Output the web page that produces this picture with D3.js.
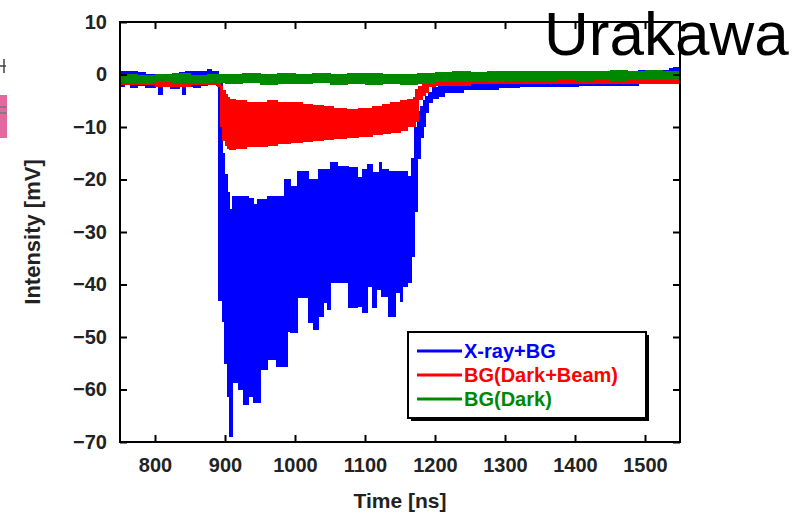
<!DOCTYPE html>
<html>
<head>
<meta charset="utf-8">
<script src="https://cdn.jsdelivr.net/npm/d3@7"></script>
<style>
  body { margin: 0; background: #fff; }
  text { font-family: "Liberation Sans", Arial, sans-serif; }
</style>
</head>
<body>
<div id="chart-area"></div>
<script>
// x-ray + background (envelope of the noisy trace: upper / lower)
var xrayTime = [750, 757, 765, 775, 787, 800, 805, 810, 822, 835, 839, 843, 855, 865, 875, 880, 888,
  890, 896, 899, 903, 907, 911, 919, 926, 933, 940, 947, 950, 961, 974, 985, 989, 993, 1004, 1019, 1026,
  1033, 1040, 1047, 1050, 1061, 1076, 1089, 1097, 1104, 1110, 1117, 1120, 1124, 1133, 1143, 1150, 1154,
  1161, 1166, 1171, 1175, 1179, 1183, 1186, 1190, 1196, 1205, 1214, 1240, 1290, 1320, 1405, 1445, 1490,
  1520, 1535, 1540, 1550];
var xrayHi = [0.5, 0.6, 0.5, 0.3, 0.0, 0.0, 0.0, 0.0, 0.0, 0.3, 0.3, 0.5, 0.5, 0.6, 0.9, 0.5, 0.5,
  -1, -15, -19, -22.5, -25.7, -23.2, -23.2, -23.2, -23.6, -24.8, -23.8, -23.8, -23.2, -23.2, -20, -20, -21.3, -18.5, -20, -20,
  -18.1, -18.1, -18.1, -16.8, -17.5, -17.7, -19.6, -18.1, -17.1, -18.7, -18.7, -16.8, -18.1, -18.5, -18.5, -18.5, -18.5,
  -19.4, -16, -10, -7, -6.1, -5.0, -4.2, -3.4, -2.5, -2.0, -1.7, -1.5, -1.2, -1.1, -1.0, 0.4, 0.8,
  0.8, 1.2, 1.4, 0.9];
var xrayLo = [-2.2, -1.6, -2.5, -2.0, -2.4, -2.0, -3.8, -2.3, -2.6, -2.0, -3.8, -2.2, -2.5, -2.0, -1.9, -1.8, -2.0,
  -43, -47, -55, -61.3, -68.9, -58.7, -60, -62.9, -61.3, -62.5, -62.5, -56.2, -54.3, -55.6, -55.6, -48.9, -49.1, -42.5, -47.2, -48.6,
  -46.1, -43.4, -44.8, -39.6, -39.6, -44.4, -44.2, -45.3, -40.4, -44.4, -41, -41, -42.3, -46.1, -41.5, -43.2, -40.4,
  -39.6, -34.6, -26, -16, -12, -9.9, -7.2, -5.3, -4.5, -4.2, -3.4, -2.9, -2.5, -2.3, -2.0, -2.0, -1.4,
  -0.8, -0.8, -0.6, -0.6];

// background with dark current + beam
var beamTime = [750, 800, 850, 889, 893, 897, 900, 904, 907, 915, 930, 946, 960, 975, 993, 1010, 1025, 1040,
  1055, 1074, 1090, 1111, 1125, 1136, 1150, 1160, 1169, 1172, 1176, 1182, 1186, 1190, 1200, 1250, 1350, 1550];
var beamHi = [-0.6, -0.6, -0.6, -1.0, -2.3, -3.0, -3.8, -4.4, -4.8, -5.0, -5.3, -5.3, -5.0, -5.3, -5.3, -5.7, -5.9, -6.1,
  -6.5, -6.7, -6.5, -6.1, -5.7, -5.3, -5.0, -4.8, -4.4, -2.9, -2.2, -1.9, -1.7, -1.5, -1.4, -1.2, -1.1, -1.0];
var beamLo = [-1.9, -2.2, -1.9, -2.3, -9.9, -12.5, -13.5, -14.0, -14.3, -14.0, -13.8, -13.7, -13.5, -13.2, -13.0, -12.8, -12.6, -12.4,
  -12.2, -12.0, -11.8, -11.5, -11.3, -11.0, -10.6, -9.9, -9.9, -9.0, -4.8, -4.0, -3.4, -2.3, -2.0, -1.8, -1.7, -1.6];

// dark current only
var darkTime = [750, 775, 800, 825, 850, 875, 900, 925, 950, 975, 1000, 1025, 1050, 1075, 1100, 1125, 1150, 1175,
  1200, 1225, 1250, 1275, 1300, 1325, 1350, 1375, 1400, 1425, 1450, 1475, 1500, 1525, 1550];
var darkHi = [0.0, -0.2, 0.0, 0.1, -0.1, 0.0, 0.0, 0.2, 0.0, 0.2, 0.0, 0.2, 0.0, 0.1, 0.1, 0.0, 0.0, 0.1,
  0.4, 0.5, 0.4, 0.6, 0.5, 0.6, 0.5, 0.6, 0.5, 0.6, 0.7, 0.6, 0.7, 0.6, 0.8];
var darkLo = [-1.5, -1.6, -1.4, -1.6, -1.5, -1.6, -1.8, -1.6, -1.9, -1.7, -1.8, -1.6, -1.9, -1.8, -1.9, -1.8, -1.9, -1.8,
  -1.3, -1.4, -1.2, -1.3, -1.2, -1.1, -1.2, -1.0, -1.1, -1.0, -1.1, -1.0, -0.9, -1.0, -0.9];

var xTicks = [800, 900, 1000, 1100, 1200, 1300, 1400, 1500];
var yTicks = [10, 0, -10, -20, -30, -40, -50, -60, -70];
var legendNames = ["X-ray+BG", "BG(Dark+Beam)", "BG(Dark)"];
var legendColors = ["#0000ff", "#ff0000", "#008800"];

var margin = {top: 22, left: 120};
var width = 560;
var height = 420;

var svg = d3.select("#chart-area").append("svg").attr("width", 812).attr("height", 517);

// bits of the neighbouring slide content on the left edge
svg.append("rect").attr("x", 0).attr("y", 95).attr("width", 7).attr("height", 43).attr("fill", "#e4679f");
svg.append("line").attr("x1", 0).attr("x2", 7).attr("y1", 107).attr("y2", 107).attr("stroke", "#777").attr("stroke-width", 1.5);
svg.append("line").attr("x1", 0).attr("x2", 7).attr("y1", 113).attr("y2", 113).attr("stroke", "#777").attr("stroke-width", 1.5);
svg.append("path").attr("d", "M0,66 H6 M4,59 V73").attr("stroke", "#444").attr("stroke-width", 1.5).attr("fill", "none");

var g = svg.append("g").attr("transform", "translate(" + margin.left + ", " + margin.top + ")");

var x = d3.scaleLinear().domain([750, 1550]).range([0, width]);
var y = d3.scaleLinear().domain([-70, 10]).range([height, 0]);

g.append("clipPath").attr("id", "plot-clip").append("rect").attr("width", width).attr("height", height);

function band(times, hi, lo) {
  return d3.area().curve(d3.curveStepAfter)
    .x((d, i) => { return x(times[i]); })
    .y0((d, i) => { return y(lo[i]); })
    .y1((d, i) => { return y(hi[i]); })(times);
}

var traces = g.append("g").attr("clip-path", "url(#plot-clip)");
traces.append("path").attr("d", band(xrayTime, xrayHi, xrayLo)).attr("fill", legendColors[0])
  .attr("stroke", legendColors[0]).attr("stroke-width", 1).attr("shape-rendering", "crispEdges");
traces.append("path").attr("d", band(beamTime, beamHi, beamLo)).attr("fill", legendColors[1])
  .attr("stroke", legendColors[1]).attr("stroke-width", 1).attr("shape-rendering", "crispEdges");
traces.append("path").attr("d", band(darkTime, darkHi, darkLo)).attr("fill", legendColors[2])
  .attr("stroke", legendColors[2]).attr("stroke-width", 1).attr("shape-rendering", "crispEdges");

// axes, ticks on all four sides pointing inward
var fmt = (d) => { return d3.format("d")(d); };
g.append("g").attr("class", "x axis").attr("transform", "translate(0, " + height + ")")
  .call(d3.axisBottom(x).tickValues(xTicks).tickSizeInner(-7).tickSizeOuter(0).tickPadding(16).tickFormat(fmt));
g.append("g").attr("class", "x2 axis")
  .call(d3.axisTop(x).tickValues(xTicks).tickSizeInner(-7).tickSizeOuter(0).tickFormat(""));
g.append("g").attr("class", "y axis")
  .call(d3.axisLeft(y).tickValues(yTicks).tickSizeInner(-7).tickSizeOuter(0).tickPadding(13).tickFormat(fmt));
g.append("g").attr("class", "y2 axis").attr("transform", "translate(" + width + ", 0)")
  .call(d3.axisRight(y).tickValues(yTicks).tickSizeInner(-7).tickSizeOuter(0).tickFormat(""));

g.selectAll(".axis .domain").remove();
g.selectAll(".axis line").attr("stroke", "#000").attr("stroke-width", 2);
g.selectAll(".axis text").attr("font-size", "20px").attr("font-weight", "bold").style("fill", "#222");

g.append("rect").attr("width", width).attr("height", height).attr("fill", "none")
  .attr("stroke", "#000").attr("stroke-width", 2);

// legend
var lg = g.append("g").attr("transform", "translate(" + (408 - margin.left) + ", " + (332 - margin.top) + ")");
lg.append("rect").attr("x", 3).attr("y", 3).attr("width", 238).attr("height", 86).attr("fill", "#000");
lg.append("rect").attr("width", 238).attr("height", 86).attr("fill", "#fff").attr("stroke", "#000").attr("stroke-width", 2);
legendNames.forEach((name, i) => {
  var ly = 19 + i * 24;
  lg.append("line").attr("x1", 9).attr("x2", 54).attr("y1", ly).attr("y2", ly)
    .attr("stroke", legendColors[i]).attr("stroke-width", 3);
  lg.append("text").attr("x", 56).attr("y", ly + 7).attr("font-size", "20px").attr("font-weight", "bold")
    .style("fill", legendColors[i]).text(name);
});

// axis titles
g.append("text").attr("x", width / 2).attr("y", height + 66).attr("font-size", "21px").attr("font-weight", "bold")
  .attr("text-anchor", "middle").style("fill", "#222").text("Time [ns]");
svg.append("text").attr("transform", "translate(40, 232) rotate(-90)").attr("font-size", "22px").attr("font-weight", "bold")
  .attr("text-anchor", "middle").style("fill", "#222").text("Intensity [mV]");

// presenter's name on the slide
svg.append("text").attr("x", 544).attr("y", 55).attr("font-size", "62px").style("fill", "#000").text("Urakawa");
</script>
</body>
</html>
